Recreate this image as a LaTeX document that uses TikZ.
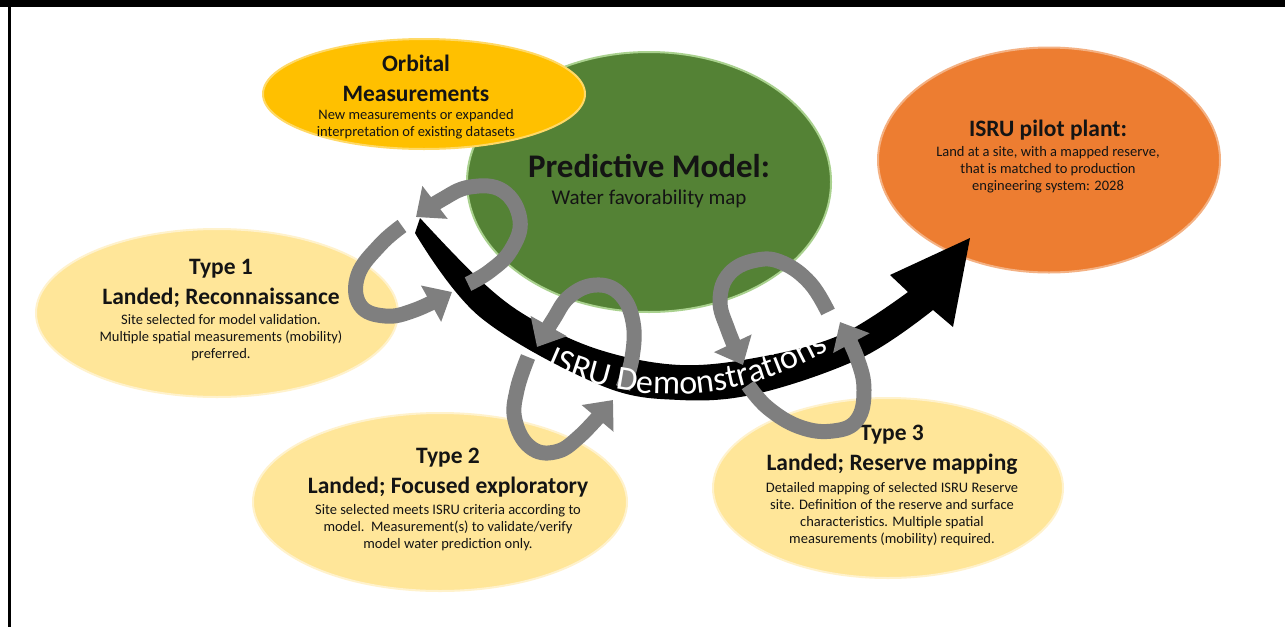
\documentclass[tikz,border=0pt]{standalone}
\usepackage{fontspec}
\setmainfont{Carlito}
\usetikzlibrary{shapes.geometric,arrows.meta,decorations.text}
\definecolor{gold}{HTML}{FFC000}
\definecolor{goldrim}{HTML}{FFD966}
\definecolor{leaf}{HTML}{548235}
\definecolor{leafrim}{HTML}{A9D18E}
\definecolor{tang}{HTML}{ED7D31}
\definecolor{tangrim}{HTML}{F4B183}
\definecolor{pale}{HTML}{FFE699}
\definecolor{palerim}{HTML}{FFF2CC}
\definecolor{loopgray}{HTML}{7F7F7F}
\definecolor{inkdark}{HTML}{141414}
\tikzset{
  blob/.style={ellipse, line width=2pt, inner sep=0pt},
  head/.style={font=\bfseries\fontsize{23.5}{30}\selectfont, align=center, inner sep=0pt, text=inkdark},
  body/.style={font=\fontsize{14.5}{17}\selectfont, align=center, inner sep=0pt, text=inkdark},
  looparrow/.style={draw=loopgray, line width=15pt, line cap=butt, line join=round, -{Triangle[width=40pt,length=24pt]}},
}
\begin{document}
\begin{tikzpicture}[x=1pt,y=-1pt]
\useasboundingbox (0,0) rectangle (1285,627);
\fill[white] (0,0) rectangle (1285,627);
% frame
\fill[black] (0,0) rectangle (1285,7);
\fill[black] (8,0) rectangle (10.5,627);

% ellipses
\node[blob, fill=pale, draw=palerim, minimum width=362pt, minimum height=168pt] (t1) at (217,313) {};
\node[blob, fill=pale, draw=palerim, minimum width=374pt, minimum height=178pt] (t2) at (440,502) {};
\node[blob, fill=pale, draw=palerim, minimum width=350pt, minimum height=180pt] (t3) at (888,488) {};
\node[blob, fill=leaf, draw=leafrim, minimum width=364pt, minimum height=260pt] (pm) at (649,182) {};
\node[blob, fill=gold, draw=goldrim, minimum width=322pt, minimum height=110pt] (om) at (424,94) {};
\node[blob, fill=tang, draw=tangrim, minimum width=342pt, minimum height=225pt] (pp) at (1049,160) {};

% texts
\node[head] (omh) at (416,78.5) {\fontsize{23.5}{27}\selectfont Orbital\\Measurements};
\node[body] (omb) at (416,124.5) {New measurements or expanded\\interpretation of existing datasets};
\node[font=\bfseries\fontsize{33}{36}\selectfont, inner sep=0pt, text=inkdark] (pmh) at (649,166) {Predictive Model:};
\node[font=\fontsize{21}{24}\selectfont, inner sep=0pt, text=inkdark] (pmb) at (649,199) {Water favorability map};
\node[head] (pph) at (1048,130) {ISRU pilot plant:};
\node[body] (ppb) at (1048,170) {Land at a site, with a mapped reserve,\\that is matched to production\\engineering system: 2028};
\node[head] (t1h) at (221,283) {Type 1\\Landed; Reconnaissance};
\node[body] (t1b) at (221,338) {Site selected for model validation.\\Multiple spatial measurements (mobility)\\preferred.};
\node[head] (t2h) at (448,473) {Type 2\\Landed; Focused exploratory};
\node[body] (t2b) at (448,528) {Site selected meets ISRU criteria according to\\model.\ \ Measurement(s) to validate/verify\\model water prediction only.};
\node[head] (t3h) at (892,450) {Type 3\\Landed; Reserve mapping};
\node[body] (t3b) at (892,514) {Detailed mapping of selected ISRU Reserve\\site. Definition of the reserve and surface\\characteristics. Multiple spatial\\measurements (mobility) required.};

% black curved arrow
\fill[black] plot[smooth, tension=0.6] coordinates {(420,218) (480,280) (530,318) (600,350) (680,365) (760,357) (840,335) (908,292)}
  -- (890,275) -- (970,238) -- (953,327) -- (933,310)
  -- plot[smooth, tension=0.6] coordinates {(933,310) (863,357) (760,393) (680,400) (600,385) (480,317) (415,233)} -- cycle;

% gray loops
\draw[looparrow] plot[smooth, tension=0.7] coordinates {(468,284) (490,271) (511,250) (520,220) (503,191) (470,187) (441,200) (416,217)};
\draw[looparrow] plot[smooth, tension=0.7] coordinates {(402,226) (380,245) (358,275) (360,305) (385,316) (415,310) (452,292)};
\draw[looparrow] plot[smooth, tension=0.7] coordinates {(623,388) (632,358) (633,322) (620,294) (596,285) (570,296) (553,320) (537,347)};
\draw[looparrow] plot[smooth, tension=0.7] coordinates {(528,357) (517,390) (515,420) (530,447) (555,452) (580,436) (613,400)};
\draw[looparrow] plot[smooth, tension=0.7] coordinates {(828,312) (810,283) (783,263) (757,260) (730,273) (720,300) (728,330) (743,365)};
\draw[looparrow] plot[smooth, tension=0.7] coordinates {(748,385) (768,408) (800,427) (833,431) (857,420) (864,390) (857,358) (840,322)};

% arc text
\path[decorate, decoration={text along path, text align=center, text color=white,
  text={|\fontsize{34}{34}\selectfont|ISRU Demonstrations}}]
  (540,363) .. controls (640,410) and (740,404) .. (835,346);
\end{tikzpicture}
\end{document}
